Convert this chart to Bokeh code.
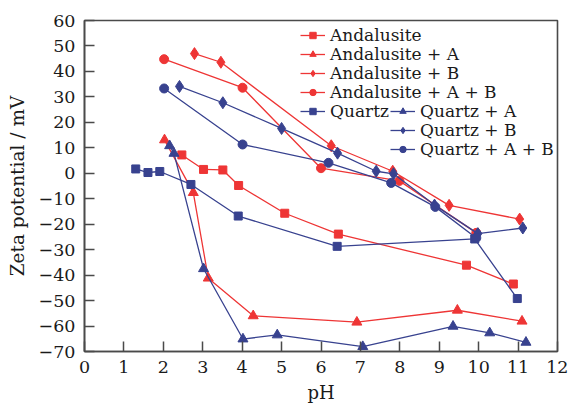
from bokeh.plotting import figure
from bokeh.models import Range1d, FixedTicker, Legend, LegendItem
from bokeh.embed import file_html
from bokeh.resources import INLINE

# ---- data ----
series_names = ["Andalusite", "Andalusite + A", "Andalusite + B", "Andalusite + A + B",
                "Quartz", "Quartz + A", "Quartz + B", "Quartz + A + B"]

and_x = [2.47, 3.02, 3.51, 3.91, 5.08, 6.44, 9.69, 10.88]
and_y = [7.2, 1.5, 1.3, -4.8, -15.7, -23.9, -36.1, -43.5]

and_a_x = [2.03, 2.76, 3.14, 4.28, 6.91, 9.46, 11.10]
and_a_y = [13.1, -7.6, -41.2, -56.0, -58.5, -53.8, -58.1]

and_b_x = [2.79, 3.46, 6.26, 7.82, 9.25, 11.04]
and_b_y = [47.0, 43.6, 10.8, 0.8, -12.6, -18.0]

and_ab_x = [2.02, 4.01, 6.00, 7.99, 9.94]
and_ab_y = [44.8, 33.6, 2.0, -3.0, -23.4]

q_x = [1.30, 1.61, 1.91, 2.70, 3.90, 6.41, 9.90, 10.98]
q_y = [1.7, 0.3, 0.7, -4.4, -16.8, -28.7, -25.8, -49.2]

q_a_x = [2.16, 2.27, 3.02, 4.02, 4.89, 7.06, 9.35, 10.28, 11.20]
q_a_y = [10.8, 7.8, -37.5, -65.1, -63.5, -68.1, -60.1, -62.7, -66.4]

q_b_x = [2.41, 3.51, 5.00, 6.42, 7.40, 7.84, 8.88, 9.98, 11.12]
q_b_y = [34.1, 27.7, 17.6, 7.9, 0.8, -0.2, -12.5, -23.7, -21.5]

q_ab_x = [2.02, 4.01, 6.19, 7.78, 8.90, 9.94]
q_ab_y = [33.3, 11.3, 4.1, -3.8, -13.2, -25.4]

x_ticks = list(range(0, 13))
y_ticks = list(range(-70, 61, 10))

RED = "#ee3535"
BLUE = "#38428f"
FONT = "DejaVu Serif"
TXT = "#1a1a1a"
AX = "#4a4a4a"

p = figure(width=568, height=407, output_backend="svg", toolbar_location=None,
           x_range=Range1d(0, 12), y_range=Range1d(-70, 60),
           min_border_left=84, min_border_right=11, min_border_top=20, min_border_bottom=56)
p.xgrid.visible = False
p.ygrid.visible = False
p.outline_line_color = AX
p.outline_line_width = 1.6
p.background_fill_color = "white"
p.border_fill_color = "white"

for ax in (p.xaxis[0], p.yaxis[0]):
    ax.axis_line_color = AX
    ax.axis_line_width = 1.6
    ax.major_tick_line_color = AX
    ax.major_tick_line_width = 1.5
    ax.major_tick_in = 10
    ax.major_tick_out = 0
    ax.minor_tick_line_color = None
    ax.major_label_text_font = FONT
    ax.major_label_text_font_size = "17.5px"
    ax.major_label_text_color = TXT
    ax.axis_label_text_font = FONT
    ax.axis_label_text_font_style = "normal"
    ax.axis_label_text_color = TXT

p.xaxis.ticker = FixedTicker(ticks=x_ticks)
p.yaxis.ticker = FixedTicker(ticks=y_ticks)
p.yaxis.major_label_overrides = {t: (("\u2212" + str(abs(t))) if t < 0 else str(t)) for t in y_ticks}
p.yaxis.major_label_standoff = 9
p.xaxis.major_label_standoff = 9
p.xaxis.axis_label = "pH"
p.xaxis.axis_label_text_font_size = "18px"
p.xaxis.axis_label_standoff = 6
p.yaxis.axis_label = "Zeta potential / mV"
p.yaxis.axis_label_text_font_size = "18.5px"
p.yaxis.axis_label_standoff = 8

specs = [
    (and_x, and_y, RED, "square", 8),
    (and_a_x, and_a_y, RED, "triangle", 10),
    (and_b_x, and_b_y, RED, "diamond", 12),
    (and_ab_x, and_ab_y, RED, "circle", 9),
    (q_x, q_y, BLUE, "square", 8),
    (q_a_x, q_a_y, BLUE, "triangle", 10),
    (q_b_x, q_b_y, BLUE, "diamond", 12),
    (q_ab_x, q_ab_y, BLUE, "circle", 9),
]

# legend row anchors (screen offsets from the frame's bottom-left)
leg_pos = [(216, 306), (216, 287), (216, 268), (216, 249), (216, 230),
           (306, 230), (306, 211), (306, 192)]

for name, (xs, ys, col, mk, sz), loc in zip(series_names, specs, leg_pos):
    l = p.line(xs, ys, line_color=col, line_width=1.3)
    s = p.scatter(xs, ys, marker=mk, size=sz, fill_color=col, line_color=col)
    lg = Legend(items=[LegendItem(label=name, renderers=[l, s])], location=loc,
                padding=0, margin=0, spacing=0,
                border_line_color=None, background_fill_alpha=0,
                glyph_width=25, glyph_height=16, label_standoff=5,
                label_text_font=FONT, label_text_font_size="17px",
                label_text_color=TXT, label_height=16)
    p.add_layout(lg)

open("out.html", "w").write(file_html(p, INLINE))
